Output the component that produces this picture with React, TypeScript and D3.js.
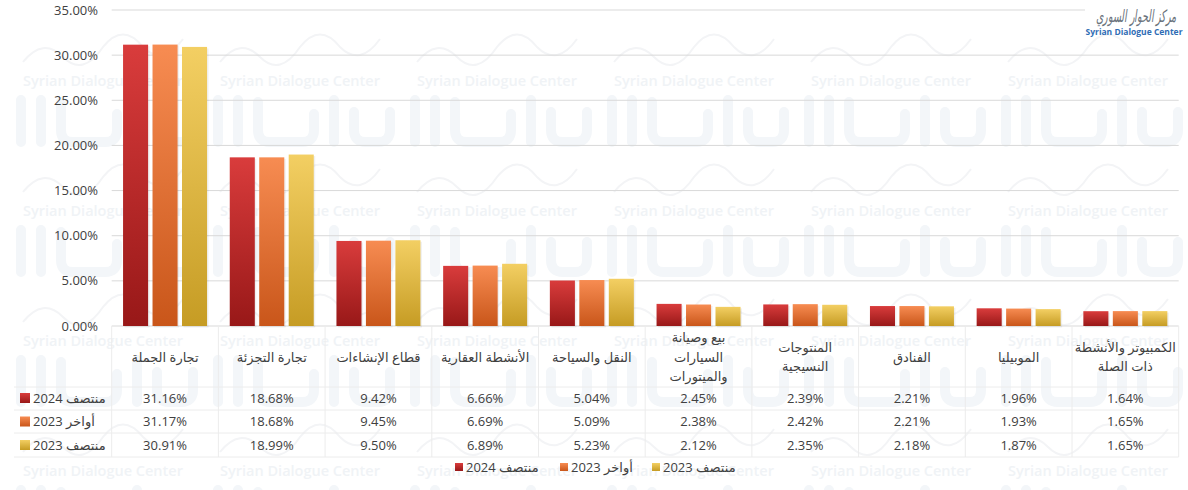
import * as d3 from 'd3';

// sectors (label lines per category)
const categories: string[][] = [
    ['تجارة الجملة'],
    ['تجارة التجزئة'],
    ['قطاع الإنشاءات'],
    ['الأنشطة العقارية'],
    ['النقل والسياحة'],
    ['بيع وصيانة', 'السيارات', 'والميتورات'],
    ['المنتوجات', 'النسيجية'],
    ['الفنادق'],
    ['الموبيليا'],
    ['الكمبيوتر والأنشطة', 'ذات الصلة'],
];

const seriesNames = ['منتصف 2024', 'أواخر 2023', 'منتصف 2023'];

const mid2024 = [31.16, 18.68, 9.42, 6.66, 5.04, 2.45, 2.39, 2.21, 1.96, 1.64];
const late2023 = [31.17, 18.68, 9.45, 6.69, 5.09, 2.38, 2.42, 2.21, 1.93, 1.65];
const mid2023 = [30.91, 18.99, 9.5, 6.89, 5.23, 2.12, 2.35, 2.18, 1.87, 1.65];

const yTicks = [0, 5, 10, 15, 20, 25, 30, 35];

const series = [mid2024, late2023, mid2023];
const gradients = [
    ['#d93c3c', '#981818'],
    ['#f78c52', '#c9561a'],
    ['#f3cf63', '#c69c24'],
];

const W = 1188;
const H = 490;
const FONT = '"Open Sans", "DejaVu Sans", sans-serif';
const TEXT = '#404040';

const x = d3.scaleBand<number>()
    .domain(d3.range(categories.length))
    .range([111.7, 1178.7]);

const xs = d3.scaleBand<number>()
    .domain([0, 1, 2])
    .range([0, 84])
    .paddingInner(0.15);

const y = d3.scaleLinear().domain([0, 35]).range([326, 10]);

const fmt = (v: number) => d3.format('.2f')(v) + '%';

const rowY = [398, 421.5, 445];
const tableLines = [387, 410, 433, 457];

// faint repeated watermark tiles (logo drawn as strokes, caption as text)
const tileX = d3.range(13, W, 197);
const tileY = d3.range(-48, H, 130);

// rough outline of the big "حوار" logo, relative to tile origin
const logoPath =
    'M8,148 L8,190 M28,148 L28,190 ' +
    'M48,150 L48,178 Q48,190 60,190 L92,190 Q104,190 104,178 L104,162 ' +
    'M124,148 L124,190 ' +
    'M144,160 L144,178 Q144,190 156,190 L168,190 Q180,190 180,178 L180,160';

function Watermark() {
    return (
        <g style={{ pointerEvents: 'none' }}>
            {tileY.map(ty => tileX.map(tx => (
                <g key={`${tx}-${ty}`} transform={`translate(${tx},${ty})`}>
                    <path d={logoPath} fill="none" stroke="#f3f6f9" strokeWidth={10} strokeLinecap="round" />
                    <path d="M10,110 q20,-25 40,-5 q20,20 40,-10 q20,-25 40,0 q20,20 40,-8" fill="none" stroke="#f3f4f6" strokeWidth={2} />
                    <text x={90} y={134} fontSize={14.5} fontWeight={600} textAnchor="middle" fontFamily={FONT} fill="#f0f3f6">Syrian Dialogue Center</text>
                </g>
            )))}
        </g>
    );
}

export default function App() {
    const group = (x.bandwidth() - 84) / 2;
    return (
        <svg width={W} height={H} style={{ position: 'absolute', left: 0, top: 0, background: '#fff' }} fontFamily={FONT}>
            <defs>
                {gradients.map((g, i) => (
                    <linearGradient key={i} id={`grad${i}`} x1="0" y1="0" x2="0" y2="1">
                        <stop offset="0%" stopColor={g[0]} />
                        <stop offset="100%" stopColor={g[1]} />
                    </linearGradient>
                ))}
            </defs>
            <rect width={W} height={H} fill="#fff" />
            <Watermark />

            {/* logo */}
            <text x={1096} y={22} fontSize={17} textLength={80} lengthAdjust="spacingAndGlyphs" fill="#6a737c" fontStyle="italic">مركز الحوار السوري</text>
            <text x={1134} y={35} fontSize={8.5} fontWeight={700} textAnchor="middle" fill="#2f6db5">Syrian Dialogue Center</text>

            {/* gridlines + y labels */}
            {yTicks.map(t => (
                <g key={t}>
                    <line x1={111.7} x2={t === 35 ? 1085 : 1178.7} y1={y(t)} y2={y(t)} stroke="#d9d9d9" strokeWidth={1} />
                    <text x={98} y={y(t)} dy="0.35em" fontSize={13} textAnchor="end" fill={TEXT}>{fmt(t)}</text>
                </g>
            ))}

            {/* bars */}
            {series.map((vals, s) => vals.map((v, i) => {
                const bx = (x(i) ?? 0) + group + (xs(s) ?? 0);
                const bw = xs.bandwidth();
                return (
                    <g key={`${s}-${i}`}>
                        <rect x={bx + 1.5} y={y(v) + 1.5} width={bw} height={y(0) - y(v)} fill="#000" opacity={0.06} />
                        <rect x={bx} y={y(v)} width={bw} height={y(0) - y(v)} fill={`url(#grad${s})`} />
                    </g>
                );
            }))}

            {/* data table */}
            {tableLines.map(ly => (
                <line key={ly} x1={14} x2={1178.7} y1={ly} y2={ly} stroke="#ececec" />
            ))}
            {d3.range(categories.length + 1).map(i => {
                const lx = i < categories.length ? (x(i) ?? 0) : x.range()[1];
                return <line key={i} x1={lx} x2={lx} y1={326} y2={457} stroke="#ececec" />;
            })}
            {categories.map((lines, i) => {
                const cx = (x(i) ?? 0) + x.bandwidth() / 2;
                const top = 357 - ((lines.length - 1) * 19.5) / 2;
                return (
                    <text key={i} fontSize={13} textAnchor="middle" fill={TEXT}>
                        {lines.map((l, k) => (
                            <tspan key={k} x={cx} y={top + k * 19.5} dy="0.35em">{l}</tspan>
                        ))}
                    </text>
                );
            })}
            {series.map((vals, s) => (
                <g key={s}>
                    <rect x={20} y={rowY[s] - 5} width={10} height={10} fill={`url(#grad${s})`} />
                    <text x={33} y={rowY[s]} dy="0.35em" fontSize={13} fill={TEXT}>{seriesNames[s]}</text>
                    {vals.map((v, i) => (
                        <text key={i} x={(x(i) ?? 0) + x.bandwidth() / 2} y={rowY[s]} dy="0.35em" fontSize={13} textAnchor="middle" fill={TEXT}>{fmt(v)}</text>
                    ))}
                </g>
            ))}

            {/* legend */}
            {seriesNames.map((n, s) => {
                const lx = [455, 560, 652][s];
                return (
                    <g key={n}>
                        <rect x={lx} y={463} width={8} height={8} fill={`url(#grad${s})`} />
                        <text x={lx + 11} y={467} dy="0.35em" fontSize={13} fill={TEXT}>{n}</text>
                    </g>
                );
            })}
        </svg>
    );
}
